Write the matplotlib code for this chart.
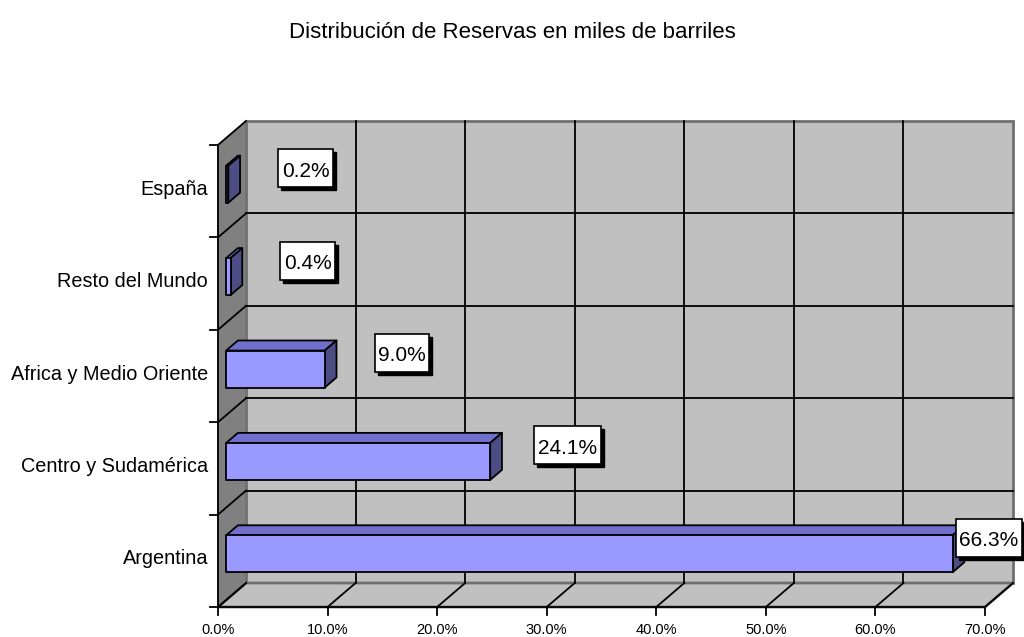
import matplotlib
matplotlib.use("Agg")
import matplotlib.pyplot as plt
from matplotlib.patches import Polygon, Rectangle

# ---- data ----
categories = ["Argentina", "Centro y Sudamérica", "Africa y Medio Oriente",
              "Resto del Mundo", "España"]
values = [66.3, 24.1, 9.0, 0.4, 0.2]
value_labels = ["66.3%", "24.1%", "9.0%", "0.4%", "0.2%"]
xticks = [0, 10, 20, 30, 40, 50, 60, 70]
xtick_labels = ["0.0%", "10.0%", "20.0%", "30.0%", "40.0%", "50.0%", "60.0%", "70.0%"]
title = "Distribución de Reservas en miles de barriles"

plt.rcParams['font.family'] = ['Liberation Sans', 'DejaVu Sans']

W, H = 1024, 637
fig = plt.figure(figsize=(W / 100, H / 100), dpi=100)
ax = fig.add_axes([0, 0, 1, 1])
ax.set_axis_off()

# pixel geometry of the front plane
px_x0, px_per_x = 218.0, 767.0 / 70.0
px_ybot, px_per_cat = 607.0, 92.4
ax.set_xlim(-px_x0 / px_per_x, (W - px_x0) / px_per_x)
ax.set_ylim(-0.5 - (H - px_ybot) / px_per_cat, -0.5 + px_ybot / px_per_cat)

n = len(categories)
XMAX = 70.0
YB, YT = -0.5, n - 0.5
DX, DY = 28.0 / px_per_x, 24.0 / px_per_cat  # depth vector


def P(x, y, t):
    return (x + t * DX, y + t * DY)


wall = "#C0C0C0"
side = "#808080"
edge = "#707070"

# back wall
ax.add_patch(Polygon([P(0, YB, 1), P(XMAX, YB, 1), P(XMAX, YT, 1), P(0, YT, 1)],
                     closed=True, facecolor=wall, edgecolor=edge, lw=2, zorder=1))
# floor
ax.add_patch(Polygon([P(0, YB, 0), P(XMAX, YB, 0), P(XMAX, YB, 1), P(0, YB, 1)],
                     closed=True, facecolor=wall, edgecolor=edge, lw=2, zorder=1))
# side wall
ax.add_patch(Polygon([P(0, YB, 0), P(0, YB, 1), P(0, YT, 1), P(0, YT, 0)],
                     closed=True, facecolor=side, edgecolor=edge, lw=1, zorder=1))

# gridlines on back wall and floor
for xv in xticks[1:-1]:
    a, b = P(xv, YB, 1), P(xv, YT, 1)
    ax.plot([a[0], b[0]], [a[1], b[1]], color="black", lw=1.3, zorder=2)
for xv in xticks:
    a, b = P(xv, YB, 0), P(xv, YB, 1)
    ax.plot([a[0], b[0]], [a[1], b[1]], color="black", lw=1.3, zorder=2)
for k in range(1, n):
    yv = k - 0.5
    a, b = P(0, yv, 1), P(XMAX, yv, 1)
    ax.plot([a[0], b[0]], [a[1], b[1]], color="black", lw=1.3, zorder=2)
for k in range(0, n + 1):
    yv = k - 0.5
    a, b = P(0, yv, 0), P(0, yv, 1)
    ax.plot([a[0], b[0]], [a[1], b[1]], color="black", lw=1.3, zorder=2)

# axes lines and ticks
ax.plot([0, 0], [YB, YT], color="black", lw=1.3, zorder=3)
ax.plot([0, XMAX], [YB, YB], color="black", lw=1.3, zorder=3)
tick_dx = 8.0 / px_per_x
tick_dy = 8.0 / px_per_cat
for k in range(0, n + 1):
    yv = k - 0.5
    ax.plot([-tick_dx, 0], [yv, yv], color="black", lw=1.3, zorder=3)
for xv, lab in zip(xticks, xtick_labels):
    ax.plot([xv, xv], [YB, YB - tick_dy], color="black", lw=1.3, zorder=3)
    ax.text(xv, YB - 23.0 / px_per_cat, lab, ha="center", va="center",
            fontsize=10.5, color="black")
for i, c in enumerate(categories):
    ax.text(-10.0 / px_per_x, i + 0.02, c, ha="right", va="center", fontsize=14.3,
            color="black")

# bars
front_c, top_c, side_c = "#9999FF", "#7070CC", "#4D4D85"
t0, t1 = 0.29, 0.71
hh = 0.2
for i, v in enumerate(values):
    yb, yt = i - hh, i + hh
    ax.add_patch(Polygon([P(0, yt, t0), P(v, yt, t0), P(v, yt, t1), P(0, yt, t1)],
                         closed=True, facecolor=top_c, edgecolor="black",
                         lw=1.3, joinstyle="round", zorder=4))
    ax.add_patch(Polygon([P(v, yb, t0), P(v, yt, t0), P(v, yt, t1), P(v, yb, t1)],
                         closed=True, facecolor=side_c, edgecolor="black",
                         lw=1.3, joinstyle="round", zorder=4))
    ax.add_patch(Polygon([P(0, yb, t0), P(v, yb, t0), P(v, yt, t0), P(0, yt, t0)],
                         closed=True, facecolor=front_c, edgecolor="black",
                         lw=1.3, joinstyle="round", zorder=5))

# value labels with boxes
fig.canvas.draw()
renderer = fig.canvas.get_renderer()
xlim_right = ax.get_xlim()[1]
box_h = 38.0 / px_per_cat
pad_x = 3.5 / px_per_x
sh_x, sh_y = 3.0 / px_per_x, 3.0 / px_per_cat
for i, (v, lab) in enumerate(zip(values, value_labels)):
    cx = min(v + 7.8, xlim_right - 35.0 / px_per_x)
    cy = i + DY - 0.01
    t = ax.text(cx, cy - 3.0 / px_per_cat, lab, ha="center", va="center",
                fontsize=15, color="black", zorder=8)
    bb = t.get_window_extent(renderer=renderer)
    w_data = bb.width / px_per_x + 2 * pad_x
    x0 = cx - w_data / 2
    y0 = cy - box_h / 2
    ax.add_patch(Rectangle((x0 + sh_x, y0 - sh_y), w_data, box_h,
                           facecolor="black", edgecolor="black", lw=1, zorder=6))
    ax.add_patch(Rectangle((x0, y0), w_data, box_h, facecolor="white",
                           edgecolor="black", lw=1.2, zorder=7))

fig.text(512 / W, 1 - 32 / H, title, ha="center", va="center", fontsize=16,
         color="black")

fig.savefig("out.png", dpi=100)
